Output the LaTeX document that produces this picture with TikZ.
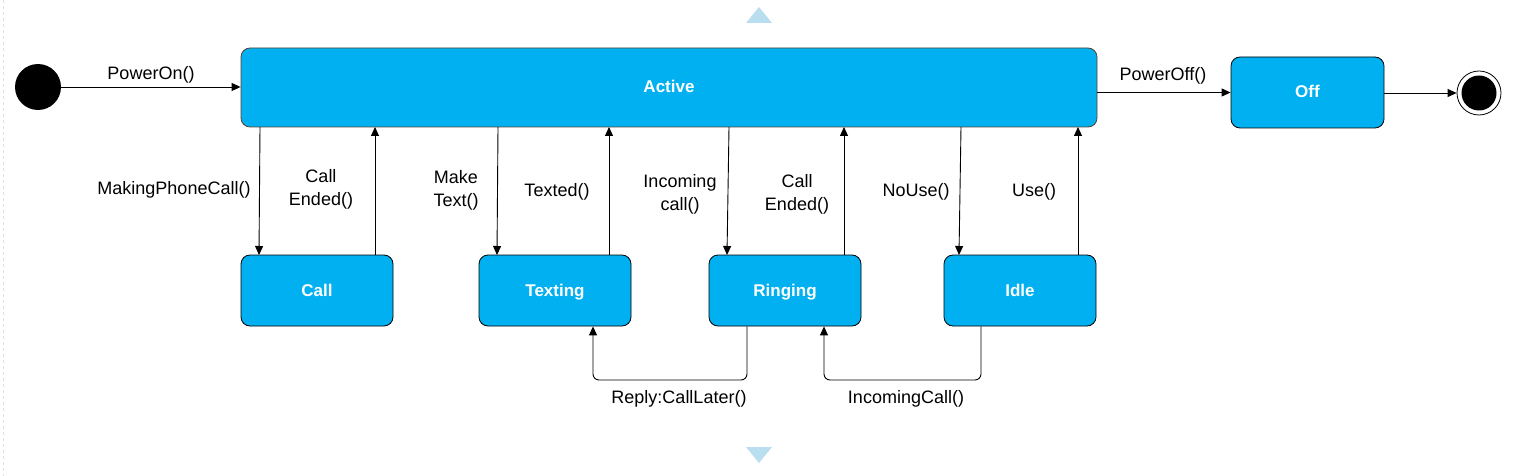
\documentclass[tikz,border=0pt]{standalone}
\usepackage{fontspec}
\setmainfont{Liberation Sans}
\usetikzlibrary{arrows.meta}
\definecolor{stblue}{HTML}{00B0F0}
\definecolor{trib}{HTML}{B8DEF0}
\definecolor{actb}{HTML}{5A4033}
\begin{document}
\begin{tikzpicture}[x=1pt,y=-1pt,
  state/.style={draw=black,fill=stblue,rounded corners=9pt,line width=0.8pt,
    text=white,font=\fontsize{17}{19}\selectfont\bfseries,inner sep=0pt,
    text height=12pt,text depth=1pt},
  lbl/.style={font=\fontsize{18}{23}\selectfont,align=center,inner sep=0pt},
  conn/.style={line width=0.9pt,-{Triangle[length=9pt,width=8pt]}},
  tri/.style={fill=trib,draw=none}]
\useasboundingbox (0,0) rectangle (1513,476);
\draw[draw=black!12,dashed,line width=0.8pt] (3,0) -- (3,476);
% triangles
\fill[trib] (746,23) -- (759,7) -- (772,23) -- cycle;
\fill[trib] (746,447) -- (759,463) -- (772,447) -- cycle;
% start / final
\node[circle,fill=black,minimum size=46pt,inner sep=0pt] (start) at (38,87) {};
\node[circle,draw=black,fill=white,line width=0.8pt,minimum size=44pt,inner sep=0pt] (final) at (1479,93) {};
\node[circle,fill=black,minimum size=35pt,inner sep=0pt] (finalin) at (1479,93) {};
% states
\node[state,draw=actb,minimum width=856pt,minimum height=79pt] (active) at (669,87.5) {Active};
\node[state,minimum width=153pt,minimum height=71pt] (off) at (1307.5,92.5) {Off};
\node[state,minimum width=152pt,minimum height=71pt] (call) at (317,290.5) {Call};
\node[state,minimum width=152pt,minimum height=71pt] (texting) at (555,290.5) {Texting};
\node[state,minimum width=152pt,minimum height=71pt] (ringing) at (785,290.5) {Ringing};
\node[state,minimum width=152pt,minimum height=71pt] (idle) at (1020,290.5) {Idle};
% horizontal transitions
\draw[conn] (start.east) -- (active.west |- start.east);
\node[lbl] (lpon) at (151,75) {PowerOn()};
\draw[conn] (active.east |- off.west) -- (off.west);
\node[lbl] (lpoff) at (1163,76) {PowerOff()};
\draw[conn] (off.east |- final.west) -- (final.west);
% vertical transitions
\coordinate (a1) at (260,127); \coordinate (c1) at (259,255);
\draw[conn] (a1) -- (c1);
\node[lbl] (l1) at (174,190) {MakingPhoneCall()};
\coordinate (c2) at (375,255); \coordinate (a2) at (375,127);
\draw[conn] (c2) -- (a2);
\node[lbl] (l2) at (321,189) {Call\\Ended()};
\coordinate (a3) at (498,127); \coordinate (t3) at (497,255);
\draw[conn] (a3) -- (t3);
\node[lbl] (l3) at (456,190) {Make\\Text()};
\coordinate (t4) at (609,255); \coordinate (a4) at (609,127);
\draw[conn] (t4) -- (a4);
\node[lbl] (l4) at (557,192) {Texted()};
\coordinate (a5) at (729,127); \coordinate (r5) at (727,255);
\draw[conn] (a5) -- (r5);
\node[lbl] (l5) at (680,194) {Incoming\\call()};
\coordinate (r6) at (844,255); \coordinate (a6) at (844,127);
\draw[conn] (r6) -- (a6);
\node[lbl] (l6) at (797,194) {Call\\Ended()};
\coordinate (a7) at (961,127); \coordinate (i7) at (959,255);
\draw[conn] (a7) -- (i7);
\node[lbl] (l7) at (916,192) {NoUse()};
\coordinate (i8) at (1078,255); \coordinate (a8) at (1078,127);
\draw[conn] (i8) -- (a8);
\node[lbl] (l8) at (1034,192) {Use()};
% bottom transitions
\draw[conn,rounded corners=6pt] (ringing.south -| 747,0) -- (747,380) -- (593,380) -- (texting.south -| 593,0);
\node[lbl] (l9) at (679,399) {Reply:CallLater()};
\draw[conn,rounded corners=6pt] (idle.south -| 981,0) -- (981,380) -- (824,380) -- (ringing.south -| 824,0);
\node[lbl] (l10) at (906,399) {IncomingCall()};
\end{tikzpicture}
\end{document}
